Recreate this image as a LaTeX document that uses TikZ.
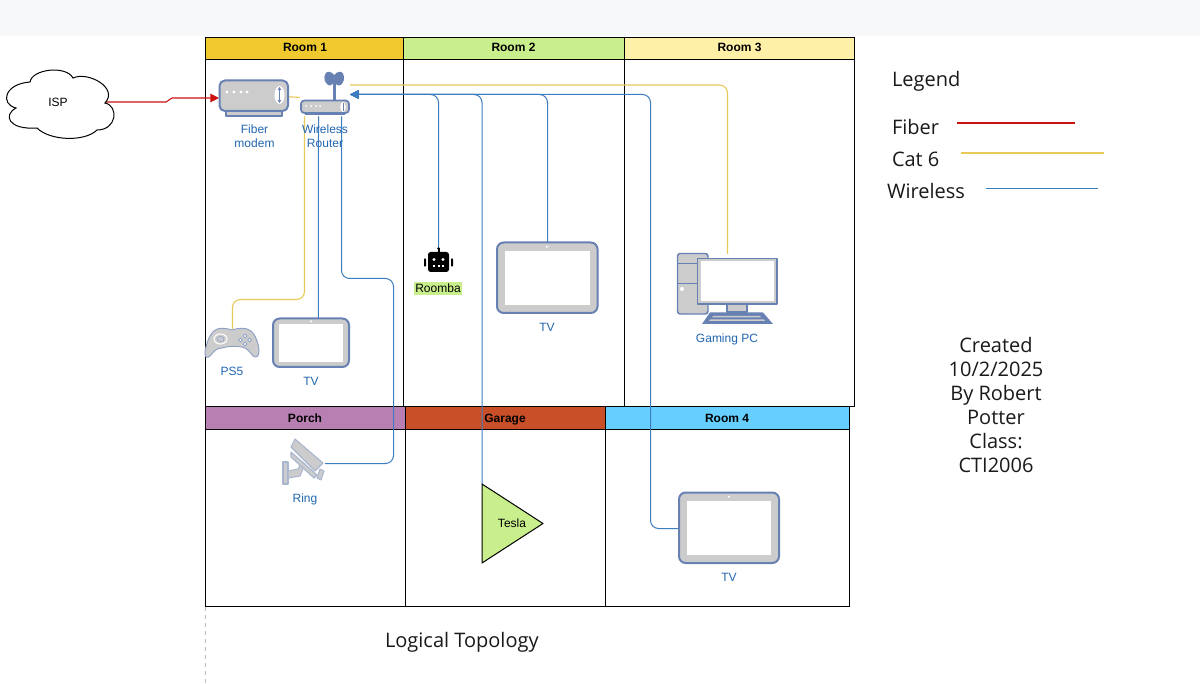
\documentclass[tikz,border=0pt]{standalone}
\usepackage{fontspec}
\setmainfont{Liberation Sans}
\newfontfamily\opensans{Open Sans}
\usetikzlibrary{arrows.meta}
\definecolor{topbar}{HTML}{F7F8FA}
\definecolor{hroomone}{HTML}{F0C92F}
\definecolor{hroomtwo}{HTML}{C9EF8C}
\definecolor{hroomthree}{HTML}{FFF0A8}
\definecolor{hporch}{HTML}{B87FB3}
\definecolor{hgarage}{HTML}{C94F28}
\definecolor{hroomfour}{HTML}{66CFFF}
\definecolor{iconblue}{HTML}{6881B3}
\definecolor{icongray}{HTML}{CCCCCC}
\definecolor{labelblue}{HTML}{2266B0}
\definecolor{wirered}{HTML}{CC1111}
\definecolor{wireyellow}{HTML}{E8C95A}
\definecolor{wireblue}{HTML}{3B7DBF}
\definecolor{camline}{HTML}{A9B6CF}
\tikzset{
  x=0.75pt,y=-0.75pt,
  every node/.style={inner sep=0pt,outer sep=0pt},
  lanebody/.style={draw=black,line width=0.8pt,fill=white},
  lanehead/.style={draw=black,line width=0.8pt},
  headtext/.style={font=\fontsize{9}{11}\selectfont\bfseries,text=black,text height=6.6pt,text depth=1.9pt},
  iconlabel/.style={font=\fontsize{9}{10.5}\selectfont,text=labelblue,align=center},
  blacklabel/.style={font=\fontsize{9}{11}\selectfont,text=black},
  bigtext/.style={font=\fontsize{15}{18}\selectfont\opensans,text=black!90},
  hold/.style 2 args={minimum width=#1*0.75pt,minimum height=#2*0.75pt},
  icon/.style={draw=iconblue,line width=1.1pt,fill=icongray,line join=round},
  fiber/.style={draw=wirered,line width=0.8pt,rounded corners=1.5pt},
  cat/.style={draw=wireyellow,line width=0.85pt,rounded corners=6pt},
  wifi/.style={draw=wireblue,line width=0.75pt,rounded corners=6pt},
  wifiarrow/.style={wifi,-{Triangle[length=6.5pt,width=6.5pt]}},
  fiberarrow/.style={fiber,-{Triangle[length=6.5pt,width=6.5pt]}},
}
\newcommand{\tablet}[9]{%
  \draw[icon,line width=1.5pt,rounded corners=5pt] (#1,#2) rectangle (#3,#4);
  \fill[white] (#5,#6) rectangle (#7,#8);
  \fill[white] (#9,{(#2+#6)/2}) circle[radius=1.2];
}
\begin{document}
\begin{tikzpicture}
\useasboundingbox (0,0) rectangle (1200,684);
\fill[white] (0,0) rectangle (1200,684);
\fill[topbar] (0,0) rectangle (1200,36);

% lanes
\draw[lanebody] (205.5,37.5) rectangle (403.5,406.5);
\draw[lanebody] (403.5,37.5) rectangle (624.5,406.5);
\draw[lanebody] (624.5,37.5) rectangle (854.5,406.5);
\draw[lanehead,fill=hroomone] (205.5,37.5) rectangle (403.5,59.5);
\draw[lanehead,fill=hroomtwo] (403.5,37.5) rectangle (624.5,59.5);
\draw[lanehead,fill=hroomthree] (624.5,37.5) rectangle (854.5,59.5);
\draw[lanebody] (205.5,406.5) rectangle (405.5,606.5);
\draw[lanebody] (405.5,406.5) rectangle (605.5,606.5);
\draw[lanebody] (605.5,406.5) rectangle (849.5,606.5);
\draw[lanehead,fill=hporch] (205.5,406.5) rectangle (405.5,429.5);
\draw[lanehead,fill=hgarage] (405.5,406.5) rectangle (605.5,429.5);
\draw[lanehead,fill=hroomfour] (605.5,406.5) rectangle (849.5,429.5);
\node[headtext] (hone) at (305,48.5) {Room 1};
\node[headtext] (htwo) at (513.5,48.5) {Room 2};
\node[headtext] (hthree) at (739.5,48.5) {Room 3};
\node[headtext] (hporchlabel) at (305,419) {Porch};
\node[headtext] (hgaragelabel) at (505,419) {Garage};
\node[headtext] (hfour) at (727,419) {Room 4};
\draw[gray!50,line width=0.5pt,dashed] (205.5,607) -- (205.5,684);

% anchor holders for the icons
\node[hold={90}{20}] (isp) at (59,102) {};
\node[hold={70}{36}] (modem) at (254,98) {};
\node[hold={50}{44}] (router) at (325,94.5) {};
\node[hold={54}{28}] (ps5) at (232.5,343) {};
\node[hold={76}{49}] (tvone) at (311,342.5) {};
\node[hold={29}{24}] (roomba) at (438.5,260) {};
\node[hold={102}{71}] (tvtwo) at (547.5,277.5) {};
\node[hold={100}{70}] (pc) at (727.5,289) {};
\node[hold={42}{48}] (ring) at (304,463.5) {};
\node[hold={61}{79}] (tesla) at (512.5,523.5) {};
\node[hold={101}{71}] (tvthree) at (729,528.5) {};

% connectors
\draw[fiberarrow] (isp.east) -- (168,102) -- (170,98) -- (modem.west);
\draw[cat] ([yshift=0.9pt]modem.east) -- ([yshift=-2.2pt]router.west);
\draw[cat] (ps5.north) -- (232.5,299.5) -- (304.5,299.5) -- (304.5,0 |- router.south);
\draw[cat] (pc.north) -- (727.5,85) -- (350,85);
\draw[wifi] ([xshift=5.6pt]tvone.north) -- (318.5,0 |- router.south);
\draw[wifi] (ring.east) -- (393.5,463.5) -- (393.5,278.5) -- (341.5,278.5) -- (341.5,0 |- router.south);
\draw[wifiarrow] (roomba.north) -- (438.5,94.5) -- (router.east);
\draw[wifiarrow] (tvtwo.north) -- (547.5,94.5) -- (router.east);
\draw[wifiarrow] (tesla.north west) -- (482,94.5) -- (router.east);
\draw[wifiarrow] (tvthree.west) -- (650.5,528.5) -- (650.5,94.5) -- (router.east);

% ISP cloud
\draw[black,line width=0.75pt,fill=white] (16,108)
  .. controls (0,104) and (4,84) .. (30,82)
  .. controls (32,69) and (66,65) .. (73,78)
  .. controls (88,71) and (119,88) .. (105,103)
  .. controls (119,106) and (117,130) .. (97,130)
  .. controls (85,142) and (50,141) .. (37,128)
  .. controls (8,130) and (3,115) .. cycle;
\node[blacklabel] at (58,102) {ISP};

% fiber modem
\draw[icon,fill=icongray] (226,110) rectangle (282,116);
\draw[icon,line width=1.5pt,rounded corners=4pt] (219.5,80.5) rectangle (288,111);
\foreach \dx in {227,234,241,247}{\fill[white] (\dx,92) circle[radius=1.6];}
\fill[white] (279.5,95) ellipse[x radius=5,y radius=9];
\draw[iconblue,line width=0.9pt,{Stealth[length=2.5pt,width=3pt]}-{Stealth[length=2.5pt,width=3pt]}] (279.5,87) -- (279.5,103);
\node[iconlabel] (modemlabel) at (254.5,136) {Fiber\\modem};

% wireless router
\fill[iconblue] (333,80) rectangle (335.5,101);
\fill[iconblue] (334.2,75) .. controls (331,71) and (327,71) .. (325.5,73.5)
  .. controls (323,78) and (325,83) .. (328,85)
  .. controls (331,86.5) and (333,84) .. (334.2,81)
  .. controls (335.5,84) and (337.5,86.5) .. (340.5,85)
  .. controls (343.5,83) and (345.5,78) .. (343,73.5)
  .. controls (341.5,71) and (337.5,71) .. cycle;
\fill[iconblue] (305,112) rectangle (345,115.5);
\draw[icon,line width=1.3pt,rounded corners=2.5pt] (301,100.5) rectangle (349,113);
\foreach \dx in {306,311,316,320}{\fill[white] (\dx,106) circle[radius=1];}
\fill[white] (343,107) ellipse[x radius=2.8,y radius=5];
\draw[iconblue,line width=0.7pt] (343,103) -- (343,111);
\node[iconlabel] (routerlabel) at (325,136) {Wireless\\Router};

% PS5 gamepad
\draw[draw=iconblue!75,line width=0.7pt,fill=icongray,line join=round]
  (232,330) .. controls (226,328) and (218,327) .. (214,331)
  .. controls (209,335) and (205,347) .. (205,354)
  .. controls (205,358) and (208,358) .. (210,356)
  .. controls (214,351) and (217,348) .. (222,348)
  .. controls (228,346) and (236,346) .. (242,347)
  .. controls (247,348) and (250,352) .. (253,356)
  .. controls (256,358) and (259,357) .. (259,351)
  .. controls (259,344) and (255,334) .. (251,331)
  .. controls (246,327) and (238,328) .. cycle;
\draw[white,line width=0.8pt,fill=icongray] (220.5,339) ellipse[x radius=6.5,y radius=5];
\draw[iconblue!70,line width=0.5pt] (220.5,339) ellipse[x radius=3.5,y radius=2.5];
\foreach \bx/\by in {245/336,245/344,240.5/340,249.5/340}{\draw[iconblue!80,line width=0.5pt,fill=white] (\bx,\by) circle[radius=1.8];}
\node[iconlabel] (pslabel) at (232,371) {PS5};

% televisions
\tablet{273}{318.5}{349}{367}{279}{324}{343}{362}{311}
\node[iconlabel] (tvonelabel) at (311,381) {TV};
\tablet{497}{242.5}{597.5}{313}{504.5}{251}{590}{305}{547}
\node[iconlabel] (tvtwolabel) at (547,327) {TV};
\tablet{679}{492.5}{779}{563}{687}{501}{771}{555}{729}
\node[iconlabel] (tvthreelabel) at (729,577) {TV};

% Roomba
\fill[black,rounded corners=2pt] (428,252) rectangle (449,272);
\fill[black] (437.5,248) rectangle (439.5,253);
\fill[black] (438.5,248.5) circle[radius=1.3];
\fill[black,rounded corners=1pt] (424,258) rectangle (426,267);
\fill[black,rounded corners=1pt] (451,258) rectangle (453,267);
\fill[white] (434,259.5) circle[radius=1.7];
\fill[white] (443,259.5) circle[radius=1.7];
\foreach \mx in {434,438.5,443}{\fill[white] (\mx-1,265.5) rectangle (\mx+1,267.5);}
\node[fill=hroomtwo,minimum width=36pt,minimum height=10pt,blacklabel] (roombalabel) at (438,288.5) {Roomba};

% Gaming PC
\draw[icon,rounded corners=2pt] (677.5,253.5) rectangle (708,314);
\draw[iconblue,line width=1.1pt] (677.5,263.5) -- (708,263.5);
\draw[iconblue,line width=1.1pt] (677.5,283.5) -- (708,283.5);
\fill[white] (682,289) circle[radius=2];
\draw[icon] (727,303) rectangle (747,312);
\draw[icon,line width=1.3pt,fill=icongray] (697.5,258.5) rectangle (777,304);
\fill[white] (700.5,261.5) rectangle (774,301);
\fill[iconblue] (710,312.5) -- (763,312.5) -- (773,324) -- (702,324) -- cycle;
\fill[icongray] (713,316) -- (760,316) -- (761,317.5) -- (712,317.5) -- cycle;
\fill[icongray] (710,319.5) -- (764,319.5) -- (765,321) -- (709,321) -- cycle;
\node[iconlabel] (pclabel) at (727,339) {Gaming PC};

% Ring camera
\begin{scope}[draw=camline,line width=0.8pt,fill=icongray,line join=round]
\filldraw (283,462) rectangle (288,484);
\filldraw (288,471) -- (298,469) -- (302,462) -- (305,464) -- (300,476) -- (288,478) -- cycle;
\filldraw (291,452) -- (317,475) -- (314,478) -- (291,457) -- cycle;
\filldraw (295,439) -- (323,463) -- (315,471) -- (291,447) -- cycle;
\filldraw (320,469) -- (324,471) -- (321,480) -- (317,478) -- cycle;
\end{scope}
\node[iconlabel] (ringlabel) at (305,499) {Ring};

% Tesla
\draw[black,line width=0.75pt,fill=hroomtwo,line join=round] (tesla.north west) -- (tesla.east) -- (tesla.south west) -- cycle;
\node[blacklabel] (teslalabel) at (512,523) {Tesla};

% legend and free text
\node[bigtext,anchor=west] (legend) at (892,81) {Legend};
\node[bigtext,anchor=west] (fiberlabel) at (892,127) {Fiber};
\node[bigtext,anchor=west] (catlabel) at (892,159) {Cat 6};
\node[bigtext,anchor=west] (wirelesslabel) at (887,191) {Wireless};
\coordinate (fa) at (957,123); \coordinate (fb) at (1075,123);
\coordinate (ca) at (961,153); \coordinate (cb) at (1104,153);
\coordinate (wa) at (986,188.5); \coordinate (wb) at (1098,188.5);
\draw[wirered,line width=0.8pt] (fa) -- (fb);
\draw[wireyellow,line width=0.85pt] (ca) -- (cb);
\draw[wireblue,line width=0.75pt] (wa) -- (wb);
\node[bigtext,anchor=west] (topology) at (385,642) {Logical Topology};
\node[font=\fontsize{15}{18}\selectfont\opensans,text=black!90,align=center] (created) at (996,405) {Created\\10/2/2025\\By Robert\\Potter\\Class:\\CTI2006};
\end{tikzpicture}
\end{document}
